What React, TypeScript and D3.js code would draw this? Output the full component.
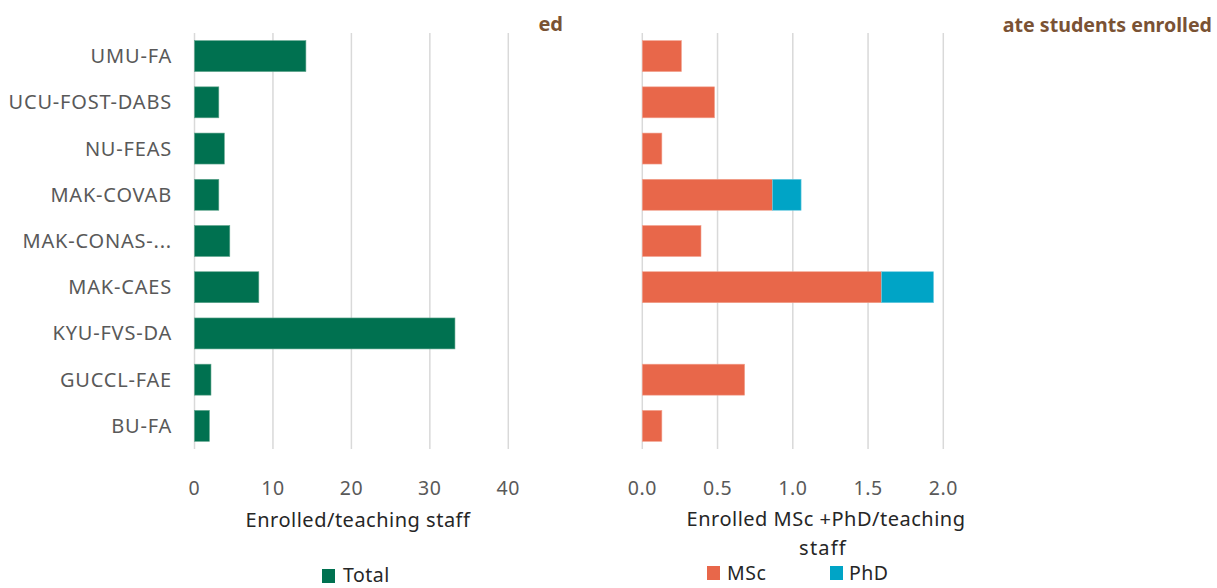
import React from "react";
import * as d3 from "d3";

const categories = [
  "UMU-FA",
  "UCU-FOST-DABS",
  "NU-FEAS",
  "MAK-COVAB",
  "MAK-CONAS-...",
  "MAK-CAES",
  "KYU-FVS-DA",
  "GUCCL-FAE",
  "BU-FA",
];
const totalValues = [14.2, 3.1, 3.8, 3.1, 4.5, 8.2, 33.2, 2.1, 1.9];
const mscValues = [0.26, 0.48, 0.13, 0.865, 0.39, 1.59, 0, 0.68, 0.13];
const phdValues = [0, 0, 0, 0.19, 0, 0.345, 0, 0, 0];
const leftTicks = [0, 10, 20, 30, 40];
const rightTicks = [0, 0.5, 1.0, 1.5, 2.0];

const GREEN = "#007150";
const ORANGE = "#E8674A";
const BLUE = "#00A4C6";
const BROWN = "#7A5234";
const GRID = "#D9D9D9";
const LABEL = "#595959";
const FONT = "'Noto Sans', 'Open Sans', sans-serif";

export default function App() {
  const W = 1217;
  const H = 588;
  const top = 33;
  const bottom = 449;

  const y = d3
    .scaleBand<string>()
    .domain(categories)
    .range([top, bottom])
    .paddingInner(0.33)
    .paddingOuter(0.165);

  const xL = d3.scaleLinear().domain([0, 40]).range([194.5, 508.3]);
  const xR = d3.scaleLinear().domain([0, 2]).range([642.3, 943.3]);

  const stacked = categories.map((c, i) => ({
    c,
    msc: mscValues[i],
    phd: phdValues[i],
  }));

  return (
    <svg
      width={W}
      height={H}
      style={{ position: "absolute", left: 0, top: 0, background: "#fff" }}
      fontFamily={FONT}
    >
      {/* clipped titles */}
      <text x={563} y={31} textAnchor="end" fill={BROWN} fontWeight="bold" fontSize={20}>
        ed
      </text>
      <text x={1212} y={32} textAnchor="end" fill={BROWN} fontWeight="bold" fontSize={19.6}>
        ate students enrolled
      </text>

      {/* left gridlines */}
      {leftTicks.map((t) => (
        <line key={"lg" + t} x1={xL(t)} x2={xL(t)} y1={top} y2={bottom} stroke={GRID} strokeWidth={1.5} />
      ))}
      {/* right gridlines */}
      {rightTicks.map((t) => (
        <line key={"rg" + t} x1={xR(t)} x2={xR(t)} y1={top} y2={bottom} stroke={GRID} strokeWidth={1.5} />
      ))}

      {/* category labels */}
      {categories.map((c) => (
        <text
          key={"cl" + c}
          x={172}
          y={(y(c) as number) + y.bandwidth() / 2}
          dy="0.35em"
          textAnchor="end"
          fill={LABEL}
          fontSize={20}
          letterSpacing={0.8}
        >
          {c}
        </text>
      ))}

      {/* left bars */}
      {categories.map((c, i) => (
        <rect
          key={"lb" + c}
          x={xL(0)}
          y={y(c)}
          width={xL(totalValues[i]) - xL(0)}
          height={y.bandwidth()}
          fill={GREEN}
          stroke="#5FA58C"
          strokeWidth={0.6}
        />
      ))}

      {/* right stacked bars */}
      {stacked.map((d) => (
        <g key={"rb" + d.c}>
          {d.msc > 0 && (
            <rect
              x={xR(0)}
              y={y(d.c)}
              width={xR(d.msc) - xR(0)}
              height={y.bandwidth()}
              fill={ORANGE}
              stroke="#F2A28F"
              strokeWidth={0.6}
            />
          )}
          {d.phd > 0 && (
            <rect
              x={xR(d.msc)}
              y={y(d.c)}
              width={xR(d.msc + d.phd) - xR(d.msc)}
              height={y.bandwidth()}
              fill={BLUE}
              stroke="#6CCBE0"
              strokeWidth={0.6}
            />
          )}
        </g>
      ))}

      {/* tick labels */}
      {leftTicks.map((t) => (
        <text key={"lt" + t} x={xL(t)} y={495} textAnchor="middle" fill={LABEL} fontSize={19.5} letterSpacing={0.6}>
          {d3.format("d")(t)}
        </text>
      ))}
      {rightTicks.map((t) => (
        <text key={"rt" + t} x={xR(t)} y={495} textAnchor="middle" fill={LABEL} fontSize={19.5} letterSpacing={0.6}>
          {d3.format(".1f")(t)}
        </text>
      ))}

      {/* axis titles */}
      <text x={358} y={527} textAnchor="middle" fill="#262626" fontSize={20} letterSpacing={0.5}>
        Enrolled/teaching staff
      </text>
      <text x={826} y={526} textAnchor="middle" fill="#262626" fontSize={20} letterSpacing={0.5}>
        Enrolled MSc +PhD/teaching
      </text>
      <text x={823} y={555} textAnchor="middle" fill="#262626" fontSize={20} letterSpacing={1.2}>
        staff
      </text>

      {/* legends */}
      <rect x={322} y={569} width={13} height={14} fill={GREEN} />
      <text x={343} y={582} fill="#262626" fontSize={19.5} letterSpacing={0.5}>
        Total
      </text>
      <rect x={707} y={566} width={13} height={14} fill={ORANGE} />
      <text x={727} y={580} fill="#262626" fontSize={19.5} letterSpacing={0.5}>
        MSc
      </text>
      <rect x={830} y={566} width={13} height={14} fill={BLUE} />
      <text x={849} y={580} fill="#262626" fontSize={19.5} letterSpacing={0.5}>
        PhD
      </text>
    </svg>
  );
}
